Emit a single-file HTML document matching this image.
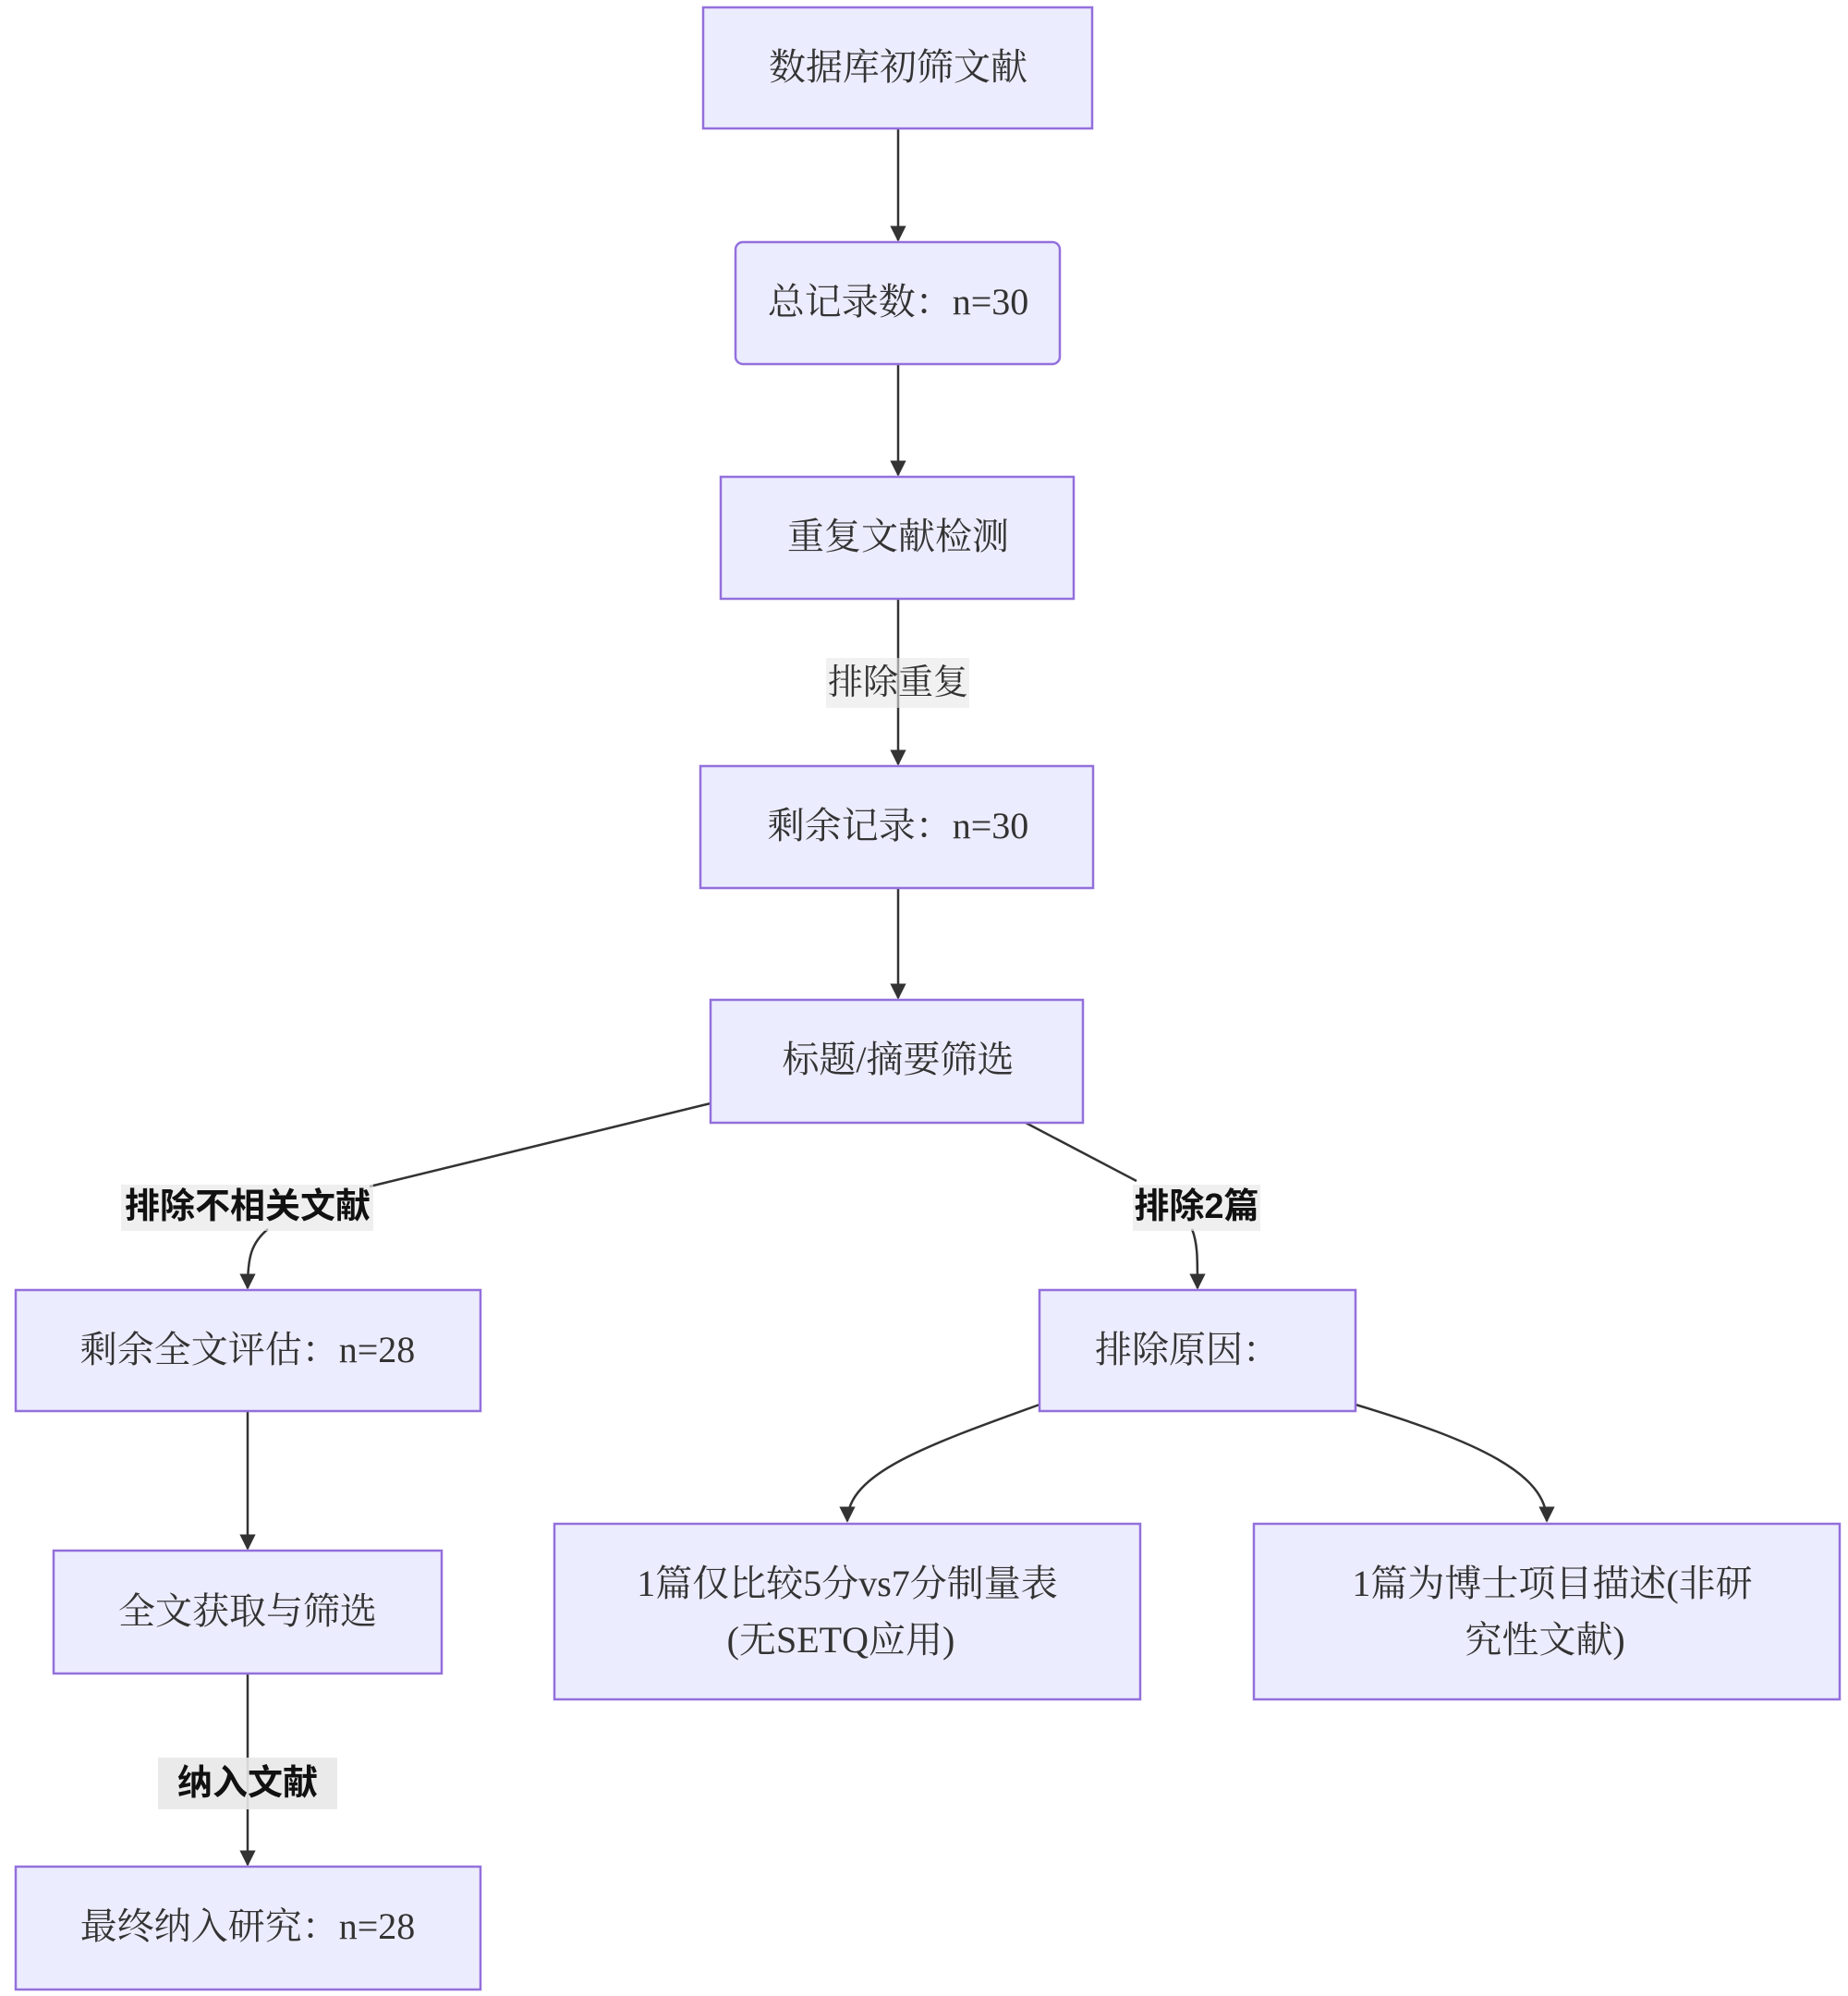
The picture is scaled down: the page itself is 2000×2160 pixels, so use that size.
<!DOCTYPE html>
<html><head><meta charset="utf-8"><style>
html,body{margin:0;padding:0;background:#fff;}
svg{display:block}
.n{fill:#ECECFF;stroke:#9370DB;stroke-width:2.5}
.t{font-family:"Liberation Serif","Noto Serif CJK SC",serif;font-size:40px;fill:#333;text-anchor:middle}
.l{font-family:"Liberation Sans","Noto Sans CJK SC",sans-serif;font-size:38px;font-weight:bold;fill:#111;text-anchor:middle}
.ls{font-family:"Liberation Serif","Noto Serif CJK SC",serif;font-size:38px;fill:#333;text-anchor:middle}
.e{fill:none;stroke:#333;stroke-width:2.5}
</style></head><body>
<svg width="2000" height="2160" viewBox="0 0 2000 2160" xmlns="http://www.w3.org/2000/svg">
<defs><marker id="a" viewBox="0 0 10 10" refX="9" refY="5" markerWidth="7" markerHeight="7" orient="auto"><path d="M0,0L10,5L0,10z" fill="#333"/></marker></defs>
<!-- edges -->
<path class="e" d="M972,139V260" marker-end="url(#a)"/>
<path class="e" d="M972,394V514" marker-end="url(#a)"/>
<path class="e" d="M972,648V827" marker-end="url(#a)"/>
<path class="e" d="M972,961V1080" marker-end="url(#a)"/>
<path class="e" d="M769,1194L400,1284"/>
<path class="e" d="M290,1330C272,1345 268,1360 268,1394" marker-end="url(#a)"/>
<path class="e" d="M1110,1215L1230,1278"/>
<path class="e" d="M1290,1330C1296,1345 1296,1360 1296,1394" marker-end="url(#a)"/>
<path class="e" d="M268,1527V1676" marker-end="url(#a)"/>
<path class="e" d="M268,1811V2018" marker-end="url(#a)"/>
<path class="e" d="M1125,1520C1000,1565 917,1595 917,1646" marker-end="url(#a)"/>
<path class="e" d="M1467,1520C1600,1560 1674,1595 1674,1646" marker-end="url(#a)"/>
<!-- nodes -->
<rect class="n" x="761" y="8" width="421" height="131"/>
<text class="t" x="972" y="86">数据库初筛文献</text>
<rect class="n" x="796" y="262" width="351" height="132" rx="8"/>
<text class="t" x="972" y="340">总记录数：n=30</text>
<rect class="n" x="780" y="516" width="382" height="132"/>
<text class="t" x="972" y="594">重复文献检测</text>
<rect class="n" x="758" y="829" width="425" height="132"/>
<text class="t" x="972" y="907">剩余记录：n=30</text>
<rect class="n" x="769" y="1082" width="403" height="133"/>
<text class="t" x="972" y="1160">标题/摘要筛选</text>
<rect class="n" x="17" y="1396" width="503" height="131"/>
<text class="t" x="268" y="1474">剩余全文评估：n=28</text>
<rect class="n" x="1125" y="1396" width="342" height="131"/>
<text class="t" x="1285" y="1474">排除原因：</text>
<rect class="n" x="58" y="1678" width="420" height="133"/>
<text class="t" x="268" y="1757">全文获取与筛选</text>
<rect class="n" x="600" y="1649" width="634" height="190"/>
<text class="t" x="917" y="1727">1篇仅比较5分vs7分制量表</text>
<text class="t" x="910" y="1788">(无SETQ应用)</text>
<rect class="n" x="1357" y="1649" width="634" height="190"/>
<text class="t" x="1680" y="1727">1篇为博士项目描述(非研</text>
<text class="t" x="1672" y="1788">究性文献)</text>
<rect class="n" x="17" y="2020" width="503" height="133"/>
<text class="t" x="268" y="2098">最终纳入研究：n=28</text>
<!-- labels -->
<rect x="894" y="712" width="155" height="54" fill="#e8e8e8" opacity="0.6"/>
<text class="ls" x="972" y="751">排除重复</text>
<rect x="131" y="1282" width="273" height="50" fill="#e8e8e8" opacity="0.7"/>
<text class="l" x="268" y="1318">排除不相关文献</text>
<rect x="1226" y="1282" width="138" height="50" fill="#e8e8e8" opacity="0.7"/>
<text class="l" x="1295" y="1318">排除2篇</text>
<rect x="171" y="1902" width="194" height="56" fill="#e8e8e8" opacity="0.9"/>
<text class="l" x="268" y="1942">纳入文献</text>
</svg>
</body></html>
